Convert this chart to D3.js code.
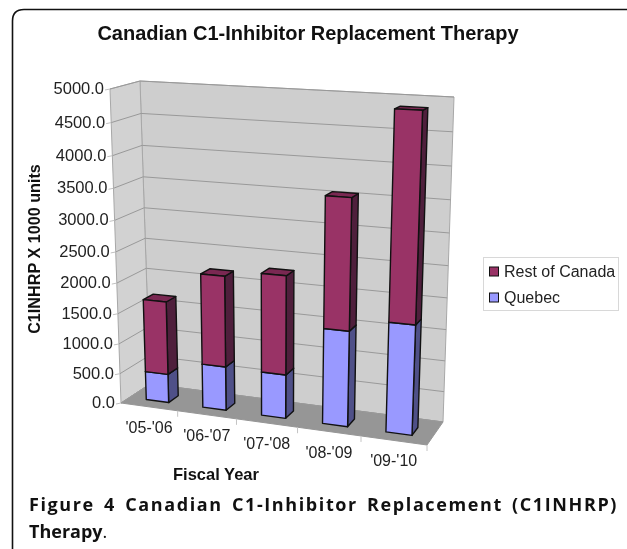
<!DOCTYPE html>
<html>
<head>
<meta charset="utf-8">
<script src="https://cdn.jsdelivr.net/npm/d3@7"></script>
<style>
    html, body { margin: 0; padding: 0; background: #fff; }
    svg { display: block; filter: blur(0.35px); }
    text { font-family: "Liberation Sans", Arial, sans-serif; }
</style>
</head>
<body>
<div id="chart"></div>
<script>
const categories = ["'05-'06", "'06-'07", "'07-'08", "'08-'09", "'09-'10"]
const quebec = [480, 725, 715, 1530, 1735]
const restOfCanada = [1205, 1470, 1580, 2030, 3135]
const yTicks = [0, 500, 1000, 1500, 2000, 2500, 3000, 3500, 4000, 4500, 5000]

const width = 627
const height = 549

const svg = d3.select("#chart").append("svg")
    .attr("width", width)
    .attr("height", height)

// Corners of the projected 3D box, [x, y] on screen
const box = {
    frontBottomLeft: [121, 403], frontBottomRight: [427, 445],
    backBottomLeft: [150, 384], backBottomRight: [443, 422],
    frontTopLeft: [110, 89], frontTopRight: [440, 104],
    backTopLeft: [140, 81], backTopRight: [454, 97]
}

const yScale = d3.scaleLinear().domain([0, 5000]).range([0, 1])
const xBand = d3.scaleBand().domain(categories).range([0, 1]).paddingInner(0.6).paddingOuter(0.3)
const xEdges = d3.scaleBand().domain(categories).range([0, 1])
const depth = {front: 0.3, back: 0.65}

// Foreshortening along an edge of the box
const foreshorten = (t, r) => t / (t + (1 - t) * r)

// u along the categories, v up the value axis, w from front to back
function project(u, v, w) {
    const mix = d3.interpolateArray
    const pu = foreshorten(u, 1.1)
    const pv = foreshorten(v, 1.079)
    const bottom = mix(mix(box.frontBottomLeft, box.frontBottomRight)(pu), mix(box.backBottomLeft, box.backBottomRight)(pu))(w)
    const top = mix(mix(box.frontTopLeft, box.frontTopRight)(pu), mix(box.backTopLeft, box.backTopRight)(pu))(w)
    return mix(bottom, top)(pv)
}

const line = d3.line()

// Walls and floor
svg.append("path").attr("fill", "#cecece").attr("stroke", "#a8a8a8")
    .attr("d", line([project(0, 0, 1), project(1, 0, 1), project(1, 1, 1), project(0, 1, 1)]) + "Z")
svg.append("path").attr("fill", "#d2d2d2").attr("stroke", "#a8a8a8")
    .attr("d", line([project(0, 0, 0), project(0, 0, 1), project(0, 1, 1), project(0, 1, 0)]) + "Z")
svg.append("path").attr("fill", "#969696").attr("stroke", "#969696")
    .attr("d", line([project(0, 0, 0), project(1, 0, 0), project(1, 0, 1), project(0, 0, 1)]) + "Z")

// Gridlines on the walls, tick marks on the left
yTicks.forEach(t => {
    const v = yScale(t)
    svg.append("path").attr("fill", "none").attr("stroke", "#999").attr("stroke-width", 1)
        .attr("d", line([project(0, v, 0), project(0, v, 1), project(1, v, 1)]))
    const p = project(0, v, 0)
    svg.append("path").attr("stroke", "#c0c0c0")
        .attr("d", line([[p[0] - 5, p[1] + 1], p]))
    svg.append("text")
        .attr("x", p[0] - 6)
        .attr("y", p[1] + 5)
        .attr("text-anchor", "end")
        .attr("font-size", 16.5)
        .attr("fill", "#222")
        .text(d3.format(".1f")(t))
})

// X axis ticks and labels
const xLabelOffset = {x: 0, y: 26}
categories.forEach((c, i) => {
    const edge = xEdges(c) + xEdges.bandwidth()
    const p = project(edge, 0, 0)
    svg.append("path").attr("stroke", "#c4c4c4")
        .attr("d", line([p, [p[0], p[1] + 6]]))
    const mid = project(xEdges(c) + xEdges.bandwidth() / 2, 0, 0)
    svg.append("text")
        .attr("x", mid[0] + xLabelOffset.x)
        .attr("y", mid[1] + xLabelOffset.y)
        .attr("text-anchor", "middle")
        .attr("font-size", 16)
        .attr("fill", "#222")
        .text(c)
})

// One stacked 3D segment
function drawSegment(u0, u1, v0, v1, colors) {
    const wf = depth.front
    const wb = depth.back
    const style = sel => sel.attr("stroke", "#111").attr("stroke-width", 1.4).attr("stroke-linejoin", "round")
    svg.append("path").call(style).attr("fill", colors.side)
        .attr("d", line([project(u1, v0, wf), project(u1, v0, wb), project(u1, v1, wb), project(u1, v1, wf)]) + "Z")
    svg.append("path").call(style).attr("fill", colors.top)
        .attr("d", line([project(u0, v1, wf), project(u1, v1, wf), project(u1, v1, wb), project(u0, v1, wb)]) + "Z")
    svg.append("path").call(style).attr("fill", colors.front)
        .attr("d", line([project(u0, v0, wf), project(u1, v0, wf), project(u1, v1, wf), project(u0, v1, wf)]) + "Z")
}

const quebecColors = {front: "#9999ff", side: "#4f5088", top: "#7a7acc"}
const restColors = {front: "#993366", side: "#4f1f3c", top: "#7a2852"}

categories.forEach((c, i) => {
    const u0 = xBand(c)
    const u1 = u0 + xBand.bandwidth()
    drawSegment(u0, u1, yScale(0), yScale(quebec[i]), quebecColors)
    drawSegment(u0, u1, yScale(quebec[i]), yScale(quebec[i] + restOfCanada[i]), restColors)
})

// Titles
svg.append("text")
    .attr("x", 308).attr("y", 40)
    .attr("text-anchor", "middle")
    .attr("font-size", 20).attr("font-weight", "bold").attr("fill", "#111")
    .text("Canadian C1-Inhibitor Replacement Therapy")
svg.append("text")
    .attr("transform", "translate(40,249) rotate(-90)")
    .attr("text-anchor", "middle")
    .attr("font-size", 16.2).attr("font-weight", "bold").attr("fill", "#111")
    .text("C1INHRP X 1000 units")
svg.append("text")
    .attr("x", 216).attr("y", 480)
    .attr("text-anchor", "middle")
    .attr("font-size", 16.5).attr("font-weight", "bold").attr("fill", "#111")
    .text("Fiscal Year")

// Legend
svg.append("rect").attr("x", 483.5).attr("y", 257.5).attr("width", 135).attr("height", 53)
    .attr("fill", "#fff").attr("stroke", "#d8d8d8")
const legendRows = [["Rest of Canada", restColors.front, 272], ["Quebec", quebecColors.front, 298]]
legendRows.forEach(r => {
    svg.append("rect").attr("x", 489.5).attr("y", r[2] - 5).attr("width", 9).attr("height", 9)
        .attr("fill", r[1]).attr("stroke", "#111")
    svg.append("text").attr("x", 504).attr("y", r[2] + 5)
        .attr("font-size", 16).attr("fill", "#222").text(r[0])
})

// Rounded frame, open on the right
svg.append("path").attr("fill", "none").attr("stroke", "#111").attr("stroke-width", 1.6)
    .attr("d", "M627,9.5 H24 Q12.5,9.5 12.5,21 V549")

// Caption, justified through word spacing
const captionFont = "'Open Sans', sans-serif"
const captionWords = ["Figure", "4", "Canadian", "C1-Inhibitor", "Replacement", "(C1INHRP)"]
const caption = svg.append("text")
    .attr("x", 29).attr("y", 511)
    .attr("font-size", 18).attr("font-weight", "bold")
    .attr("letter-spacing", 1.6)
    .attr("fill", "#111")
    .style("font-family", captionFont)
    .text(captionWords.join(" "))
const captionGap = (618 - 29 - caption.node().getComputedTextLength()) / (captionWords.length - 1)
caption.attr("word-spacing", captionGap)

const lastLine = svg.append("text")
    .attr("x", 29).attr("y", 538)
    .attr("font-size", 18).attr("fill", "#111")
    .style("font-family", captionFont)
lastLine.append("tspan").attr("font-weight", "bold").text("Therapy")
lastLine.append("tspan").text(".")
</script>
</body>
</html>
